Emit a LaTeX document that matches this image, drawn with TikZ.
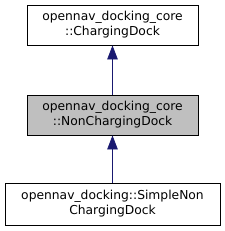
\documentclass[tikz,border=0pt]{standalone}
\usepackage{fontspec}
\setmainfont{DejaVu Sans}
\usetikzlibrary{arrows.meta}
\definecolor{navyarrow}{HTML}{191970}
\definecolor{grayfill}{HTML}{BFBFBF}
\tikzset{
  classbox/.style={draw=black, line width=0.8pt, align=center, inner sep=0pt, font=\fontsize{12.3}{15}\selectfont},
  inherit/.style={draw=navyarrow, line width=0.8pt, -{Triangle[length=14pt,width=10.5pt]}}
}
\begin{document}
\begin{tikzpicture}[x=1pt,y=-1pt]
\useasboundingbox (0,0) rectangle (225,231);
\node[classbox, minimum width=171pt, minimum height=40pt] (cd) at (112.5,25) {opennav\_docking\_core\\::ChargingDock};
\node[classbox, fill=grayfill, minimum width=171pt, minimum height=40pt] (ncd) at (112.5,115) {opennav\_docking\_core\\::NonChargingDock};
\node[classbox, minimum width=215pt, minimum height=42pt] (sncd) at (112.5,204) {opennav\_docking::SimpleNon\\ChargingDock};
\draw[inherit] (ncd.north) -- (cd.south);
\draw[inherit] (sncd.north) -- (ncd.south);
\end{tikzpicture}
\end{document}
